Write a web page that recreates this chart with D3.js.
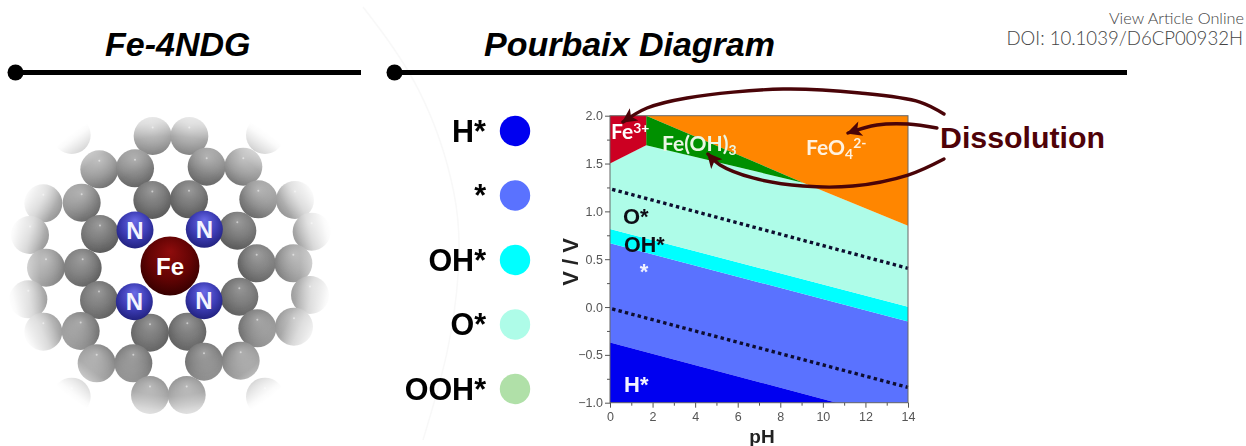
<!DOCTYPE html>
<html>
<head>
<meta charset="utf-8">
<script src="https://cdn.jsdelivr.net/npm/d3@7"></script>
<style>
  html, body { margin: 0; background: #fff; }
  svg { display: block; }
</style>
</head>
<body>
<svg id="chart"></svg>
<script>
// phase regions, [pH, V] vertices
const regionFe3    = [[0, 2], [1.7, 2], [1.7, 1.69], [0, 1.5]];
const regionFeOH3  = [[1.7, 2], [9.07, 1.3], [1.7, 1.69]];
const regionFeO4   = [[1.7, 2], [14, 2], [14, 0.85], [9.07, 1.3]];
const regionO      = [[0, 1.5], [1.7, 1.69], [9.07, 1.3], [14, 0.85], [14, 0.004], [0, 0.816]];
const regionOH     = [[0, 0.816], [14, 0.004], [14, -0.15], [0, 0.667]];
const regionBare   = [[0, 0.667], [14, -0.15], [14, -1], [10.65, -1], [0, -0.37]];
const regionH      = [[0, -0.37], [10.65, -1], [0, -1]];

const dottedUpper  = [[0.1, 1.23], [14, 0.405]];
const dottedLower  = [[0.1, -0.02], [14, -0.84]];

const arrowFe3  = [[15.69, 2.018], [14.56, 2.143], [11.74, 2.237], [8.13, 2.279], [3.62, 2.185], [1.74, 2.08], [0.61, 1.934]];
const arrowFeO4 = [[15.36, 1.871], [14, 1.913], [12.54, 1.903], [11.18, 1.819]];
const arrowFeOH = [[15.69, 1.548], [14, 1.38], [11.41, 1.265], [9.07, 1.265], [6.72, 1.349], [5.17, 1.485], [4.6, 1.6]];

const xTicks = [0, 2, 4, 6, 8, 10, 12, 14];
const xMinor = [1, 3, 5, 7, 9, 11, 13];
const yTicks = [-1, -0.5, 0, 0.5, 1, 1.5, 2];
const yMinor = [-0.75, -0.25, 0.25, 0.75, 1.25, 1.75];

const legendLabels = ['H*', '*', 'OH*', 'O*', 'OOH*'];
const legendColors = ['#0000f0', '#5a72ff', '#00ffff', '#aefce8', '#b0e0a8'];

// atom centres, in units of the structure drawing (0-1020 wide)
const carbonX = [458, 568, 298, 405, 620, 730, 245, 457, 567, 775, 130, 885, 300, 712, 90, 935, 138, 248, 770, 880, 85, 297, 718, 930, 130, 242, 772, 882, 450, 562, 290, 400, 612, 722, 450, 560, 215, 795, 215, 795];
const carbonY = [108, 108, 208, 205, 200, 200, 308, 300, 298, 298, 310, 300, 402, 392, 405, 395, 503, 503, 490, 490, 598, 600, 590, 585, 695, 693, 685, 680, 698, 695, 790, 790, 785, 782, 885, 885, 105, 105, 890, 890];
const nitrogenX = [405, 613, 403, 612];
const nitrogenY = [390, 388, 605, 602];
const ironX = [510];
const ironY = [498];

const W = 1246, H = 446;
const svg = d3.select('#chart').attr('width', W).attr('height', H);
const defs = svg.append('defs');

function sphere(id, stops) {
  const g = defs.append('radialGradient').attr('id', id)
    .attr('cx', 0.5).attr('cy', 0.42).attr('r', 0.6).attr('fx', 0.5).attr('fy', 0.25);
  stops.forEach(s => g.append('stop').attr('offset', s[0]).attr('stop-color', s[1]));
}
sphere('carbon', [[0, '#969696'], [0.55, '#787878'], [1, '#585858']]);
sphere('nitrogen', [[0, '#6a6ae6'], [0.6, '#3c3cb4'], [1, '#20207c']]);
sphere('iron', [[0, '#8e0c0c'], [0.6, '#640404'], [1, '#340000']]);

const fade = defs.append('radialGradient').attr('id', 'fade');
[[0.4, 0], [0.58, 0.12], [0.67, 0.28], [0.756, 0.42], [0.84, 0.75], [0.93, 0.97], [0.96, 1]].forEach(s =>
  fade.append('stop').attr('offset', s[0]).attr('stop-color', '#fff').attr('stop-opacity', s[1]));

defs.append('filter').attr('id', 'soft')
  .append('feGaussianBlur').attr('stdDeviation', 0.4);

const sx = d3.scaleLinear().domain([0, 1020]).range([0, 340]);
const sy = d3.scaleLinear().domain([0, 990]).range([100, 430]);

defs.append('clipPath').attr('id', 'mol-clip')
  .append('circle').attr('cx', sx(510)).attr('cy', sy(498)).attr('r', 165);

const marker = defs.append('marker').attr('id', 'head')
  .attr('viewBox', '0 0 10 10').attr('refX', 9).attr('refY', 5)
  .attr('markerUnits', 'userSpaceOnUse').attr('markerWidth', 18).attr('markerHeight', 15)
  .attr('orient', 'auto');
marker.append('path').attr('d', 'M0,0 L10,5 L0,10 L2.5,5 Z').attr('fill', '#4a0408');

// faint sweep behind the panels
svg.append('path')
  .datum([[363, 7], [423, 85], [460, 200], [460, 270], [450, 350], [423, 440]])
  .attr('fill', 'none').attr('stroke', '#f8f8f8').attr('stroke-width', 1.5)
  .attr('d', d3.line().curve(d3.curveBasis));

// header rules
const headers = [
  { title: 'Fe-4NDG', tx: 105, x1: 15.5, x2: 361 },
  { title: 'Pourbaix Diagram', tx: 484, x1: 394.5, x2: 1127 }
];
headers.forEach(d => {
  svg.append('text').attr('x', d.tx).attr('y', 56)
    .attr('font-family', 'Liberation Sans').attr('font-weight', 'bold').attr('font-style', 'italic')
    .attr('font-size', 34).attr('fill', '#000').text(d.title);
  svg.append('line').attr('x1', d.x1).attr('x2', d.x2).attr('y1', 72.5).attr('y2', 72.5)
    .attr('stroke', '#000').attr('stroke-width', 5);
  svg.append('circle').attr('cx', d.x1).attr('cy', 72.5).attr('r', 8).attr('fill', '#000');
});

svg.append('text').attr('x', 1244).attr('y', 24).attr('text-anchor', 'end')
  .attr('font-family', 'Lato').attr('font-weight', 300).attr('font-size', 16.3).attr('fill', '#444').text('View Article Online');
svg.append('text').attr('x', 1243).attr('y', 45).attr('text-anchor', 'end')
  .attr('font-family', 'Lato').attr('font-weight', 300).attr('font-size', 18.6).attr('fill', '#444').text('DOI: 10.1039/D6CP00932H');

// Fe-4NDG structure
const mol = svg.append('g').attr('clip-path', 'url(#mol-clip)').append('g').attr('filter', 'url(#soft)');

mol.selectAll('.carbon').data(carbonX).enter().append('circle')
  .attr('class', 'carbon')
  .attr('cx', d => sx(d)).attr('cy', (d, i) => sy(carbonY[i])).attr('r', 19)
  .attr('fill', 'url(#carbon)');
mol.selectAll('.spark').data(carbonX).enter().append('circle')
  .attr('class', 'spark')
  .attr('cx', d => sx(d)).attr('cy', (d, i) => sy(carbonY[i]) - 8.5).attr('r', 1)
  .attr('fill', '#fff').attr('opacity', 0.5);

svg.append('circle').attr('cx', sx(510)).attr('cy', sy(498)).attr('r', 172).attr('fill', 'url(#fade)');

svg.selectAll('.nitrogen').data(nitrogenX).enter().append('circle')
  .attr('class', 'nitrogen')
  .attr('cx', d => sx(d)).attr('cy', (d, i) => sy(nitrogenY[i])).attr('r', 18.5)
  .attr('fill', 'url(#nitrogen)');
svg.selectAll('.nitrogen-label').data(nitrogenX).enter().append('text')
  .attr('x', d => sx(d)).attr('y', (d, i) => sy(nitrogenY[i]) + 8.5)
  .attr('text-anchor', 'middle').attr('font-family', 'Liberation Sans').attr('font-weight', 'bold')
  .attr('font-size', 24).attr('fill', '#f4f4ff').text('N');
svg.selectAll('.iron').data(ironX).enter().append('circle')
  .attr('cx', d => sx(d)).attr('cy', (d, i) => sy(ironY[i])).attr('r', 29.5)
  .attr('fill', 'url(#iron)');
svg.selectAll('.iron-label').data(ironX).enter().append('text')
  .attr('x', d => sx(d)).attr('y', (d, i) => sy(ironY[i]) + 8.5)
  .attr('text-anchor', 'middle').attr('font-family', 'Liberation Sans').attr('font-weight', 'bold')
  .attr('font-size', 24).attr('fill', '#fff').text('Fe');

// legend
const legendY = d3.scalePoint().domain(legendLabels).range([131, 389]);
const legend = svg.append('g').attr('filter', 'url(#soft)');
legend.selectAll('circle').data(legendLabels).enter().append('circle')
  .attr('cx', 515).attr('cy', d => legendY(d)).attr('r', 15.2)
  .attr('fill', (d, i) => legendColors[i]);
legend.selectAll('text').data(legendLabels).enter().append('text')
  .attr('x', 486).attr('y', d => legendY(d) + 10.5).attr('text-anchor', 'end')
  .attr('font-family', 'Liberation Sans').attr('font-weight', 'bold').attr('font-size', 30.5)
  .attr('fill', '#000').text(d => d);

// Pourbaix plot
const x = d3.scaleLinear().domain([0, 14]).range([610, 908]);
const y = d3.scaleLinear().domain([-1, 2]).range([402.7, 115.7]);
const poly = d3.line().x(d => x(d[0])).y(d => y(d[1]));

const plot = svg.append('g').attr('filter', 'url(#soft)');
const regions = [
  [regionBare, '#5a72ff'], [regionH, '#0000f0'], [regionOH, '#00ffff'], [regionO, '#aefce8'],
  [regionFeO4, '#ff8600'], [regionFeOH3, '#009000'], [regionFe3, '#cc0020']
];
regions.forEach(r => {
  plot.append('path').attr('d', poly(r[0]) + 'Z').attr('fill', r[1]);
});

[dottedUpper, dottedLower].forEach(d => {
  plot.append('path').attr('d', poly(d)).attr('fill', 'none')
    .attr('stroke', '#101030').attr('stroke-width', 3.4).attr('stroke-dasharray', '3.4 3.2');
});

plot.append('rect').attr('x', x(0)).attr('y', y(2))
  .attr('width', x(14) - x(0)).attr('height', y(-1) - y(2))
  .attr('fill', 'none').attr('stroke', '#666').attr('stroke-width', 1);

const axisX = plot.append('g').attr('transform', `translate(0, ${y(-1)})`)
  .call(d3.axisBottom(x).tickValues(xTicks).tickFormat(d3.format('d')).tickSize(5).tickPadding(4));
const axisXMinor = plot.append('g').attr('transform', `translate(0, ${y(-1)})`)
  .call(d3.axisBottom(x).tickValues(xMinor).tickFormat('').tickSize(3));
const axisY = plot.append('g').attr('transform', `translate(${x(0)}, 0)`)
  .call(d3.axisLeft(y).tickValues(yTicks).tickFormat(d3.format('.1f')).tickSize(5).tickPadding(2));
const axisYMinor = plot.append('g').attr('transform', `translate(${x(0)}, 0)`)
  .call(d3.axisLeft(y).tickValues(yMinor).tickFormat('').tickSize(3));
[axisX, axisXMinor, axisY, axisYMinor].forEach(a => {
  a.select('.domain').remove();
  a.selectAll('line').attr('stroke', '#555');
  a.selectAll('text').attr('font-family', 'Liberation Sans').attr('font-size', 12.5).attr('fill', '#555');
});

plot.append('text').attr('transform', 'translate(578, 262) rotate(-90)').attr('text-anchor', 'middle')
  .attr('font-family', 'Liberation Sans').attr('font-weight', 'bold').attr('font-size', 22)
  .attr('fill', '#222').text('V / V');
plot.append('text').attr('x', 762).attr('y', 443).attr('text-anchor', 'middle')
  .attr('font-family', 'Liberation Sans').attr('font-weight', 'bold').attr('font-size', 19)
  .attr('fill', '#222').text('pH');

// labels inside the plot
function phase(px, py, size, fill, family, parts) {
  const t = plot.append('text').attr('x', px).attr('y', py)
    .attr('font-family', family).attr('font-weight', 'bold').attr('font-size', size).attr('fill', fill);
  let shift = 0;
  parts.forEach(p => {
    t.append('tspan').attr('dy', (p[1] || 0) - shift)
      .attr('font-size', p[1] ? size * 0.66 : size).text(p[0]);
    shift = p[1] || 0;
  });
}
phase(611, 139, 21, '#fff', 'Lato', [['Fe'], ['3+', -6]]);
phase(662, 151, 21, '#eaf6e4', 'Lato', [['Fe(OH)'], ['3', 4]]);
phase(806, 155, 21, '#fff2e0', 'Lato', [['FeO'], ['4', 4], ['2-', -7]]);
phase(623, 224, 22, '#101018', 'Liberation Sans', [['O*']]);
phase(624, 252, 21.5, '#101018', 'Liberation Sans', [['OH*']]);
phase(639.7, 279, 22, '#f0f0ff', 'Liberation Sans', [['*']]);
phase(624, 392, 22, '#f4f4ff', 'Liberation Sans', [['H*']]);

// dissolution arrows
const curve = d3.line().x(d => x(d[0])).y(d => y(d[1])).curve(d3.curveCatmullRom.alpha(0.5));
[arrowFe3, arrowFeO4, arrowFeOH].forEach(a => {
  svg.append('path').attr('d', curve(a)).attr('fill', 'none')
    .attr('stroke', '#4a0408').attr('stroke-width', 3.4).attr('stroke-linecap', 'round')
    .attr('marker-end', 'url(#head)');
});
svg.append('text').attr('x', 940).attr('y', 148)
  .attr('font-family', 'Liberation Sans').attr('font-weight', 'bold').attr('font-size', 30.3)
  .attr('fill', '#4f0208').text('Dissolution');
</script>
</body>
</html>
